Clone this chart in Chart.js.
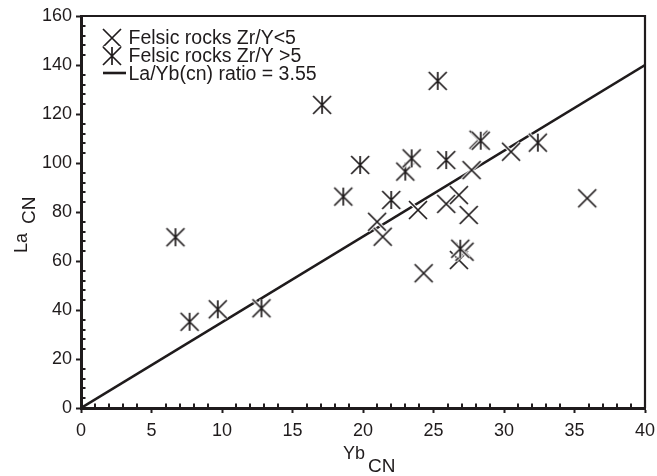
<!DOCTYPE html>
<html>
<head>
<meta charset="utf-8">
<script src="https://cdn.jsdelivr.net/npm/chart.js@4"></script>
<style>
    body { margin: 0; background: #fff; }
    #contenedor { width: 657px; height: 476px; }
</style>
</head>
<body>
<div id="contenedor"><canvas id="grafico"></canvas></div>
<script>
var nombresSeries = ['Felsic rocks Zr/Y<5', 'Felsic rocks Zr/Y >5', 'La/Yb(cn) ratio = 3.55'];

var bajoX = [21.0, 21.4, 23.9, 24.3, 25.9, 26.8, 27.5, 27.7, 30.5, 35.9, 26.8, 27.2, 28.2];
var bajoY = [76.0, 69.9, 80.8, 55.0, 83.3, 86.9, 78.8, 97.1, 104.6, 85.6, 60.4, 63.8, 109.5];

var altoX = [6.7, 7.7, 9.7, 12.8, 17.1, 18.6, 19.8, 22.0, 23.0, 23.45, 25.3, 25.9, 28.35, 32.4, 26.9];
var altoY = [69.7, 35.2, 40.3, 40.7, 123.7, 86.3, 99.2, 84.9, 96.5, 101.9, 133.5, 101.2, 109.1, 108.3, 65.0];

var lineaX = [0, 40];
var lineaY = [0, 140];

var ejeX = { min: 0, max: 40, paso: 5, menor: 1 };
var ejeY = { min: 0, max: 160, paso: 20, menor: 4 };

var TINTA = '#1f1b1c';
var FUENTE = '"Liberation Sans", Arial, sans-serif';

function puntos(xs, ys) {
    var arr = [];
    for (var i = 0; i < xs.length; i++) {
        arr.push({x: xs[i], y: ys[i]});
    }
    return arr;
}

function crearMarcador(conVertical) {
    var c = document.createElement('canvas');
    c.width = 24;
    c.height = 24;
    var ctx = c.getContext('2d');
    var m = 12, r = 9;
    function trazar(ancho, color) {
        ctx.lineWidth = ancho;
        ctx.strokeStyle = color;
        ctx.beginPath();
        ctx.moveTo(m - r, m - r);
        ctx.lineTo(m + r, m + r);
        ctx.moveTo(m + r, m - r);
        ctx.lineTo(m - r, m + r);
        if (conVertical) {
            ctx.moveTo(m, m - r);
            ctx.lineTo(m, m + r);
        }
        ctx.stroke();
    }
    trazar(3.8, '#fff');
    trazar(1.7, TINTA);
    return c;
}

var MARCA_X = crearMarcador(false);
var MARCA_AST = crearMarcador(true);

// marco, ticks menores, titulos de ejes y leyenda
var extras = {
    id: 'extras',
    afterDraw: function (chart) {
        var ctx = chart.ctx;
        var a = chart.chartArea;
        var sx = chart.scales.x;
        var sy = chart.scales.y;
        var v, p;
        ctx.save();
        ctx.strokeStyle = TINTA;

        ctx.lineWidth = 2.2;
        ctx.beginPath();
        ctx.moveTo(a.left, a.top);
        ctx.lineTo(a.right, a.top);
        ctx.lineTo(a.right, a.bottom);
        ctx.stroke();

        ctx.lineWidth = 2;
        ctx.beginPath();
        for (v = ejeX.min; v <= ejeX.max; v += ejeX.menor) {
            if (v % ejeX.paso === 0) continue;
            p = Math.round(sx.getPixelForValue(v));
            ctx.moveTo(p, a.bottom);
            ctx.lineTo(p, a.bottom - 4.5);
        }
        for (v = ejeY.min; v <= ejeY.max; v += ejeY.menor) {
            if (v % ejeY.paso === 0) continue;
            p = Math.round(sy.getPixelForValue(v));
            ctx.moveTo(a.left, p);
            ctx.lineTo(a.left + 4.5, p);
        }
        ctx.stroke();

        ctx.fillStyle = TINTA;
        ctx.textBaseline = 'alphabetic';
        ctx.textAlign = 'left';
        ctx.font = '18px ' + FUENTE;
        ctx.fillText('Yb', 343, 458.5);
        ctx.font = '19px ' + FUENTE;
        ctx.fillText('CN', 368, 472);

        ctx.save();
        ctx.translate(27, 253);
        ctx.rotate(-Math.PI / 2);
        ctx.font = '18px ' + FUENTE;
        ctx.fillText('La', 0, 0);
        ctx.font = '19px ' + FUENTE;
        ctx.fillText('CN', 29, 8);
        ctx.restore();

        var bases = [43.5, 61.8, 80];
        ctx.drawImage(MARCA_X, 100, 26);
        ctx.drawImage(MARCA_AST, 100, 44);
        ctx.lineWidth = 2.6;
        ctx.beginPath();
        ctx.moveTo(103, 73);
        ctx.lineTo(126, 73);
        ctx.stroke();
        ctx.font = '19.5px ' + FUENTE;
        for (var i = 0; i < nombresSeries.length; i++) {
            ctx.fillText(nombresSeries[i], 128.5, bases[i]);
        }
        ctx.restore();
    }
};

var GRAFICO = new Chart(document.getElementById('grafico'), {
    type: 'scatter',
    data: {
        datasets: [{
            label: nombresSeries[0],
            data: puntos(bajoX, bajoY),
            pointStyle: MARCA_X,
            pointRadius: 9,
            order: 1
        }, {
            label: nombresSeries[1],
            data: puntos(altoX, altoY),
            pointStyle: MARCA_AST,
            pointRadius: 9,
            order: 0
        }, {
            label: nombresSeries[2],
            data: puntos(lineaX, lineaY),
            showLine: true,
            borderColor: TINTA,
            borderWidth: 2.6,
            pointRadius: 0,
            order: 2
        }]
    },
    options: {
        responsive: true,
        maintainAspectRatio: false,
        animation: false,
        layout: {
            padding: { top: 16, right: 12, left: 0, bottom: 0 }
        },
        plugins: {
            legend: { display: false },
            tooltip: { enabled: false }
        },
        scales: {
            x: {
                type: 'linear',
                min: ejeX.min,
                max: ejeX.max,
                afterFit: function (scale) {
                    scale.height = 68;
                    scale.paddingLeft = 0;
                    scale.paddingRight = 0;
                },
                border: { display: true, color: TINTA, width: 3 },
                grid: { drawOnChartArea: false, drawTicks: true, tickLength: 5, tickWidth: 2, tickColor: TINTA },
                ticks: {
                    stepSize: ejeX.paso,
                    color: TINTA,
                    padding: 7,
                    maxRotation: 0,
                    font: { family: FUENTE, size: 18 }
                }
            },
            y: {
                type: 'linear',
                min: ejeY.min,
                max: ejeY.max,
                afterFit: function (scale) {
                    scale.width = 81;
                    scale.paddingTop = 0;
                    scale.paddingBottom = 0;
                },
                border: { display: true, color: TINTA, width: 3 },
                grid: { drawOnChartArea: false, drawTicks: true, tickLength: 5, tickWidth: 2, tickColor: TINTA },
                ticks: {
                    stepSize: ejeY.paso,
                    color: TINTA,
                    padding: 4,
                    font: { family: FUENTE, size: 18 }
                }
            }
        }
    },
    plugins: [extras]
});
</script>
</body>
</html>
